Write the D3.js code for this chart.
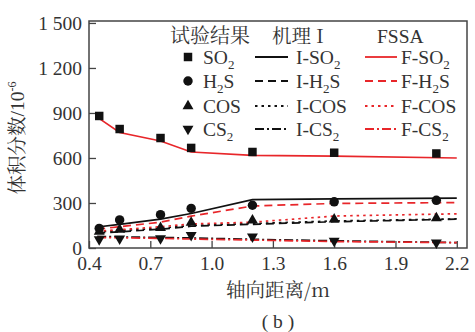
<!DOCTYPE html>
<html>
<head>
<meta charset="utf-8">
<script src="https://cdn.jsdelivr.net/npm/d3@7"></script>
<style>
  body { margin: 0; background: #fff; }
  text { font-family: "Liberation Serif", "Noto Serif CJK SC", "Noto Sans CJK SC", serif; fill: #333; }
</style>
</head>
<body>
<div id="chart"></div>
<script>
// measured points (试验结果)
const EXP_X = [0.45, 0.55, 0.75, 0.9, 1.2, 1.6, 2.1];
const EXP_SO2 = [880, 793, 733, 667, 640, 635, 630];
const EXP_H2S = [131, 187, 222, 264, 285, 308, 318];
const EXP_COS = [110, 122, 135, 169, 185, 191, 200];
const EXP_CS2 = [58, 62, 64, 86, 76, 47, 35];

// model curves
const MOD_X = [0.44, 0.55, 0.75, 0.9, 1.2, 1.6, 2.2];
const I_SO2 = [140, 158, 192, 230, 322, 328, 332];
const I_H2S = [100, 108, 125, 145, 158, 175, 192];
const I_COS = [108, 115, 132, 150, 163, 180, 194];
const I_CS2 = [78, 74, 70, 67, 58, 48, 36];
const F_SO2 = [872, 770, 713, 640, 618, 612, 600];
const F_H2S = [125, 142, 172, 212, 280, 297, 303];
const F_COS = [112, 122, 142, 160, 172, 213, 228];
const F_CS2 = [70, 68, 64, 60, 53, 43, 36];

const X_TICKS = [0.4, 0.7, 1.0, 1.3, 1.6, 1.9, 2.2];
const Y_TICKS = [0, 300, 600, 900, 1200, 1500];

const W = 475, H = 332;
const RED = "#e8262a", INK = "#111", FRAME = "#444";
const FS = 19.5;

const svg = d3.select("#chart").append("svg")
    .attr("width", W)
    .attr("height", H);

const x = d3.scaleLinear().domain([0.4, 2.25]).range([89, 467]);
const y = d3.scaleLinear().domain([0, 1513]).range([248, 21]);

// frame
svg.append("rect")
    .attr("x", x.range()[0]).attr("y", y.range()[1])
    .attr("width", x.range()[1] - x.range()[0])
    .attr("height", y.range()[0] - y.range()[1])
    .attr("fill", "none").attr("stroke", FRAME).attr("stroke-width", 1.5);

// axes, ticks pointing inward
const fmtY = v => v >= 1000 ? Math.floor(v / 1000) + " " + d3.format("03d")(v % 1000) : String(v);
const yAxis = svg.append("g")
    .attr("transform", `translate(${x.range()[0]},0)`)
    .call(d3.axisLeft(y).tickValues(Y_TICKS).tickSizeInner(-7).tickSizeOuter(0).tickPadding(14).tickFormat(fmtY));
const xAxis = svg.append("g")
    .attr("transform", `translate(0,${y.range()[0]})`)
    .call(d3.axisBottom(x).tickValues(X_TICKS).tickSizeInner(-7).tickSizeOuter(0).tickPadding(8).tickFormat(d3.format(".1f")));
[yAxis, xAxis].forEach(a => {
    a.select(".domain").remove();
    a.selectAll(".tick line").attr("stroke", FRAME).attr("stroke-width", 1.3);
    a.selectAll(".tick text").style("font-size", FS + "px").attr("fill", "#333")
        .style("font-family", "Liberation Serif");
});
yAxis.selectAll(".tick text").attr("x", -7);

// lines
const line = d3.line().x((d, i) => x(MOD_X[i])).y(d => y(d));
const series = [
    { v: I_SO2, c: INK, dash: null },
    { v: I_H2S, c: INK, dash: "8,5" },
    { v: I_COS, c: INK, dash: "2.5,4" },
    { v: I_CS2, c: INK, dash: "9,3,2,3" },
    { v: F_SO2, c: RED, dash: null },
    { v: F_H2S, c: RED, dash: "8,5" },
    { v: F_COS, c: RED, dash: "2.5,4" },
    { v: F_CS2, c: RED, dash: "9,3,2,3" },
];
svg.append("g").selectAll("path").data(series).join("path")
    .attr("d", d => line(d.v))
    .attr("fill", "none")
    .attr("stroke", d => d.c)
    .attr("stroke-width", 1.7)
    .attr("stroke-dasharray", d => d.dash);

// markers
const sym = {
    sq: d3.symbol().type(d3.symbolSquare).size(72),
    ci: d3.symbol().type(d3.symbolCircle).size(70),
    up: d3.symbol().type(d3.symbolTriangle).size(52),
};
const marks = [
    { v: EXP_SO2, s: "sq", rot: 0 },
    { v: EXP_H2S, s: "ci", rot: 0 },
    { v: EXP_COS, s: "up", rot: 0 },
    { v: EXP_CS2, s: "up", rot: 180 },
];
marks.forEach(m => {
    svg.append("g").selectAll("path").data(m.v).join("path")
        .attr("d", sym[m.s]())
        .attr("transform", (d, i) => `translate(${x(EXP_X[i])},${y(d)}) rotate(${m.rot})`)
        .attr("fill", INK);
});

// legend
const lg = svg.append("g").style("font-size", FS + "px");
lg.append("text").attr("x", 170).attr("y", 43).text("试验结果")
    .style("font-family", "Noto Serif CJK SC, Noto Sans CJK SC").style("font-size", "20px");
lg.append("text").attr("x", 272).attr("y", 43).text("机理 I")
    .style("font-family", "Noto Serif CJK SC, Noto Sans CJK SC");
lg.append("text").attr("x", 377).attr("y", 43).text("FSSA");

const rowY = [57, 81, 106, 129];
const names = [["SO", "2", ""], ["H", "2", "S"], ["COS", "", ""], ["CS", "2", ""]];
function subText(g, xx, yy, prefix, parts) {
    const t = g.append("text").attr("x", xx).attr("y", yy + 7);
    t.append("tspan").text(prefix + parts[0]);
    if (parts[1]) t.append("tspan").attr("dy", 5).style("font-size", "13px").text(parts[1]);
    if (parts[2]) t.append("tspan").attr("dy", -5).text(parts[2]);
}
names.forEach((n, i) => {
    const m = marks[i];
    lg.append("path").attr("d", sym[m.s]())
        .attr("transform", `translate(188,${rowY[i]}) rotate(${m.rot})`).attr("fill", INK);
    subText(lg, 203, rowY[i], "", n);
    lg.append("line").attr("x1", 255).attr("x2", 288).attr("y1", rowY[i]).attr("y2", rowY[i])
        .attr("stroke", INK).attr("stroke-width", 1.8).attr("stroke-dasharray", series[i].dash);
    subText(lg, 296, rowY[i], "I-", n);
    lg.append("line").attr("x1", 365).attr("x2", 397).attr("y1", rowY[i]).attr("y2", rowY[i])
        .attr("stroke", RED).attr("stroke-width", 1.8).attr("stroke-dasharray", series[i + 4].dash);
    subText(lg, 401, rowY[i], "F-", n);
});

// axis titles
const yt = svg.append("text")
    .attr("transform", `translate(24,138) rotate(-90)`)
    .attr("text-anchor", "middle")
    .style("font-size", FS + "px");
yt.append("tspan").style("font-family", "Noto Serif CJK SC, Noto Sans CJK SC").text("体积分数");
yt.append("tspan").text("/10");
yt.append("tspan").attr("dy", -8).style("font-size", "12px").text("-6");

svg.append("text").attr("x", 278).attr("y", 297).attr("text-anchor", "middle")
    .style("font-size", FS + "px")
    .style("font-family", "Noto Serif CJK SC, Noto Sans CJK SC")
    .text("轴向距离/m");
svg.append("text").attr("x", 278).attr("y", 328).attr("text-anchor", "middle")
    .style("font-size", FS + "px")
    .text("( b )");
</script>
</body>
</html>
